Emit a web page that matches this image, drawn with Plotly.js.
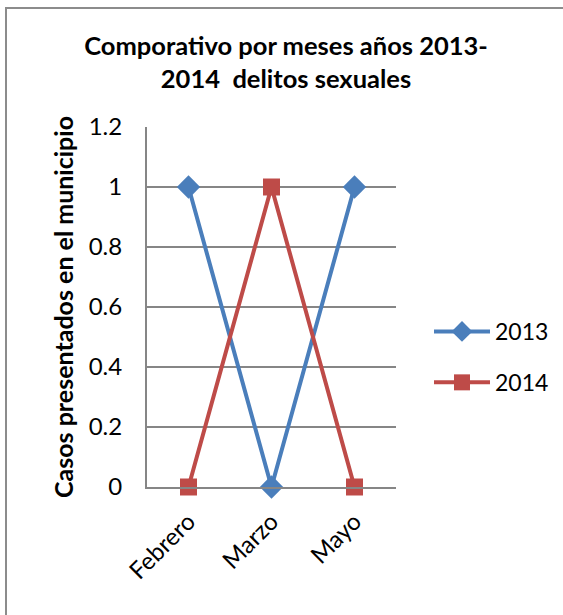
<!DOCTYPE html>
<html>
<head>
<meta charset="utf-8">
<script src="https://cdn.plot.ly/plotly-3.0.1.min.js"></script>
<style>
html,body{margin:0;padding:0;background:#fff;}
#frame{position:absolute;left:5px;top:7px;width:600px;height:700px;border-top:2px solid #8c8c8c;border-left:2px solid #8c8c8c;box-sizing:border-box;}
#chart{position:absolute;left:0;top:0;width:563px;height:615px;}
</style>
</head>
<body>
<div id="frame"></div>
<div id="chart"></div>
<script>
var categories = ["Febrero", "Marzo", "Mayo"];
var values2013 = [1, 0, 1];
var values2014 = [0, 1, 0];
var seriesNames = ["2013", "2014"];
var yTicks = [0, 0.2, 0.4, 0.6, 0.8, 1, 1.2];
var yTickLabels = ["0", "0.2", "0.4", "0.6", "0.8", "1", "1.2"];

var FONT = "Lato, 'Open Sans', sans-serif";

var traces = [
  {
    x: categories, y: values2013, name: seriesNames[0], type: "scatter", mode: "lines+markers",
    legendgroup: "a", cliponaxis: false,
    line: {color: "#4A7EBB", width: 4},
    marker: {symbol: "diamond", size: 18, color: "#4A7EBB"}
  },
  {
    x: categories, y: values2014, name: seriesNames[1], type: "scatter", mode: "lines+markers",
    legendgroup: "b", cliponaxis: false,
    line: {color: "#BE4B48", width: 4},
    marker: {symbol: "square", size: 17, color: "#BE4B48"}
  }
];

var layout = {
  width: 563, height: 615,
  paper_bgcolor: "rgba(0,0,0,0)", plot_bgcolor: "rgba(0,0,0,0)",
  margin: {l: 147, r: 167, t: 127, b: 128, autoexpand: false},
  font: {family: FONT, size: 23, color: "#000"},
  title: {
    text: "<b>Comporativo por meses años 2013-<br>2014  delitos sexuales</b>",
    font: {family: FONT, size: 25.5, color: "#000"},
    x: 286/563, xref: "container", xanchor: "center",
    y: 1 - 55/615, yref: "container", yanchor: "top"
  },
  xaxis: {
    type: "category", range: [-0.5, 2.5],
    showgrid: false, showline: true, linecolor: "#868686", linewidth: 2,
    ticks: "outside", ticklen: 9, tickcolor: "rgba(0,0,0,0)",
    tickangle: -45, tickfont: {family: FONT, size: 24},
    zeroline: false, fixedrange: true, automargin: false
  },
  yaxis: {
    range: [0, 1.2], tickvals: yTicks, ticktext: yTickLabels,
    showgrid: true, gridcolor: "#868686", gridwidth: 1.5,
    showline: true, linecolor: "#868686", linewidth: 2,
    zeroline: false, ticks: "outside", ticklen: 18, tickcolor: "rgba(0,0,0,0)",
    tickfont: {family: FONT, size: 24},
    title: {text: "<b>Casos presentados en el municipio</b>", font: {family: FONT, size: 25}, standoff: 8},
    fixedrange: true, automargin: false
  },
  legend: {
    xref: "paper", xanchor: "left", y: (487 - 357) / 360, yanchor: "middle",
    font: {family: FONT, size: 23}, tracegroupgap: 18, traceorder: "grouped",
    itemwidth: 56
  },
  showlegend: true
};
layout.legend.x = 1 + (429 - 396) / 249;

Plotly.newPlot("chart", traces, layout, {displayModeBar: false, staticPlot: true});
</script>
</body>
</html>
